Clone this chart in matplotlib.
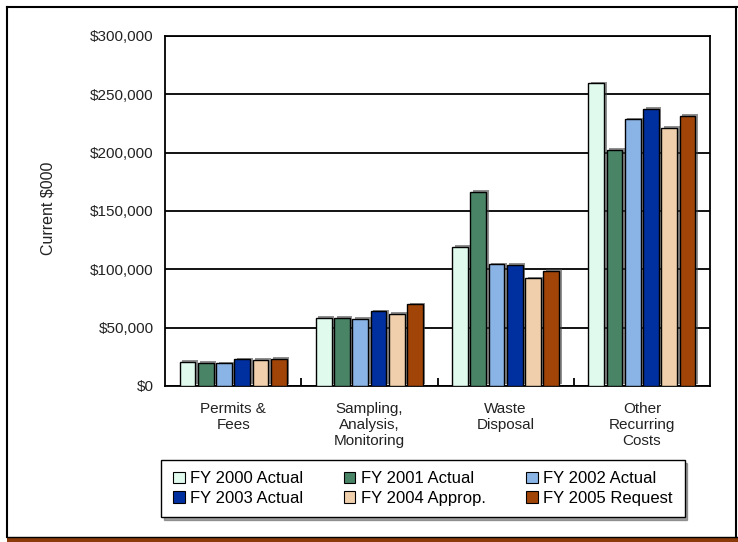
import matplotlib
matplotlib.use("Agg")
import matplotlib.pyplot as plt
import matplotlib.patheffects as pe
from matplotlib.lines import Line2D
from matplotlib.patches import Rectangle
import numpy as np

plt.rcParams['font.family'] = ['Liberation Sans', 'DejaVu Sans']

categories = ["Permits &\nFees", "Sampling,\nAnalysis,\nMonitoring", "Waste\nDisposal",
              "Other\nRecurring\nCosts"]
series_names = ["FY 2000 Actual", "FY 2001 Actual", "FY 2002 Actual",
                "FY 2003 Actual", "FY 2004 Approp.", "FY 2005 Request"]
fy2000 = [20800, 58700, 119400, 259400]
fy2001 = [20000, 58700, 166600, 202300]
fy2002 = [19400, 57500, 104300, 228600]
fy2003 = [22900, 63900, 103700, 237400]
fy2004 = [22300, 62100, 92300, 221400]
fy2005 = [23100, 69900, 98900, 231400]
series_values = [fy2000, fy2001, fy2002, fy2003, fy2004, fy2005]
colors = ["#E0FAEE", "#4A8466", "#8AB4E6", "#0030A0", "#F0D0AC", "#A04408"]
yticks = [0, 50000, 100000, 150000, 200000, 250000, 300000]
ytick_labels = ["$0", "$50,000", "$100,000", "$150,000", "$200,000", "$250,000", "$300,000"]

fig = plt.figure(figsize=(7.38, 5.42), dpi=100)
ax = fig.add_axes([165/738, 1-386/542, (710-165)/738, (386-36)/542])

step = 0.134
width = 0.115
centers = np.arange(len(categories)) + 0.5
shadow = [pe.SimplePatchShadow(offset=(1.8, 1.2), shadow_rgbFace='#444444', alpha=0.6), pe.Normal()]
handles = []
for i, (vals, col) in enumerate(zip(series_values, colors)):
    xs = centers + (i - 2.5) * step
    bars = ax.bar(xs, vals, width=width, color=col, edgecolor='black', linewidth=1.0,
                  zorder=3, label=series_names[i])
    for b in bars:
        b.set_path_effects(shadow)
    handles.append(bars)

ax.set_xlim(0, 4)
ax.set_ylim(0, 300000)
ax.set_yticks(yticks)
ax.set_yticklabels(ytick_labels, fontsize=11, color='#222222')
ax.tick_params(axis='y', length=0, pad=8)
ax.yaxis.grid(True, color='black', linewidth=1.3, zorder=1)
ax.set_axisbelow(True)

ax.set_xticks([1, 2, 3])
ax.set_xticklabels([])
ax.tick_params(axis='x', direction='in', length=6, width=1.3)
for c, lab in zip(centers, categories):
    ax.text(c, -13500, lab, ha='center', va='top', fontsize=11, linespacing=1.2, color='#222222')

for s in ax.spines.values():
    s.set_linewidth(1.3)
    s.set_color('black')

fig.text(48/738, 1-208/542, "Current $000", rotation=90, ha='center', va='center',
         fontsize=11.5, color='#222222')

# legend in row-major order: matplotlib fills columns first, so reorder
order = [0, 3, 1, 4, 2, 5]
leg = fig.legend([handles[k] for k in order], [series_names[k] for k in order],
                 loc='center', bbox_to_anchor=(423/738, 1-488.5/542), ncol=3, fontsize=12,
                 frameon=True, fancybox=False, shadow=True, edgecolor='black',
                 handlelength=0.7, handleheight=0.7, handletextpad=0.35, columnspacing=2.4,
                 borderpad=0.7, borderaxespad=0, labelspacing=0.25)
leg.get_frame().set_linewidth(1.0)
for h in leg.legend_handles:
    h.set_path_effects([])
    h.set_linewidth(0.8)

# outer frame
fig.add_artist(Line2D([7/738, 7/738], [1-7/542, 1-537/542], transform=fig.transFigure, color='black', lw=1.5))
fig.add_artist(Line2D([7/738, 737/738], [1-7/542, 1-7/542], transform=fig.transFigure, color='black', lw=1.5))
fig.add_artist(Line2D([736/738, 736/738], [1-7/542, 1-537/542], transform=fig.transFigure, color='black', lw=1.5))
fig.add_artist(Line2D([7/738, 738/738], [1-537/542, 1-537/542], transform=fig.transFigure, color='black', lw=1.0))
fig.add_artist(Rectangle((7/738, 1-541.5/542), 731/738, 3.5/542, transform=fig.transFigure,
                         facecolor='#8B3A0A', edgecolor='none'))

fig.savefig("out.png", dpi=100)
